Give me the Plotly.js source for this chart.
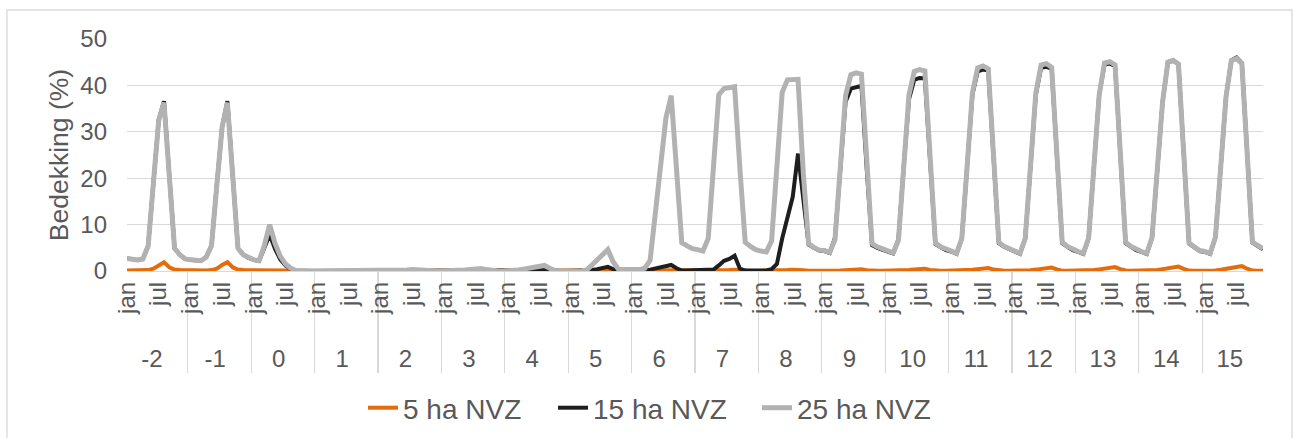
<!DOCTYPE html>
<html>
<head>
<meta charset="utf-8">
<script src="https://cdn.plot.ly/plotly-3.0.1.min.js"></script>
<style>
  html, body { margin: 0; padding: 0; background: #ffffff; }
  #chart { width: 1293px; height: 438px; }
</style>
</head>
<body>
<div id="chart"></div>
<script>
// Years (group labels) and month tick labels (only jan and jul are shown;
// the other months get blank, unique labels)
const years = ['-2','-1','0','1','2','3','4','5','6','7','8','9','10','11','12','13','14','15'];
const shownMonths = { 0: 'jan', 6: 'jul' };
const monthLabels = [];
for (let m = 0; m < 12; m++) {
  monthLabels.push(shownMonths[m] !== undefined ? shownMonths[m]
    : '\u00a0'.repeat(6) + '\u200b'.repeat(m + 1));
}

const seriesNames = ['5 ha NVZ', '15 ha NVZ', '25 ha NVZ'];

// 5 ha NVZ (monthly, one row per year)
const nvz5 = [
  0.1, 0.1, 0.1, 0.1, 0.2, 0.5, 1.3, 1.9, 0.8, 0.3, 0.2, 0.15,
  0.15,0.1, 0.1, 0.1, 0.2, 0.5, 1.3, 1.9, 0.8, 0.3, 0.2, 0.2,
  0.2, 0.2, 0.2, 0.3, 0.3, 0.2, 0.1, 0.05,0, 0, 0, 0,
  0, 0, 0, 0, 0, 0, 0, 0, 0, 0, 0, 0,
  0, 0, 0, 0, 0, 0, 0, 0, 0, 0, 0, 0,
  0, 0, 0, 0, 0, 0, 0, 0, 0, 0, 0, 0,
  0, 0, 0, 0, 0, 0, 0, 0, 0, 0, 0, 0,
  0, 0, 0, 0, 0, 0.02,0.05,0.08,0.03,0, 0, 0,
  0, 0, 0, 0.02,0.05,0.1, 0.15,0.2, 0.1, 0.02,0, 0,
  0, 0, 0, 0.03,0.08,0.15,0.2, 0.25,0.1, 0.03,0, 0,
  0, 0, 0.02,0.05,0.1, 0.2, 0.28,0.32,0.15,0.04,0.02,0.02,
  0.02,0.02,0.05,0.1, 0.15,0.25,0.33,0.38,0.18,0.05,0.03,0.03,
  0.03,0.03,0.05,0.12,0.2, 0.3, 0.42,0.5, 0.22,0.06,0.04,0.04,
  0.04,0.04,0.06,0.15,0.25,0.4, 0.55,0.65,0.3, 0.07,0.05,0.05,
  0.05,0.05,0.07,0.18,0.3, 0.45,0.65,0.75,0.35,0.08,0.05,0.05,
  0.05,0.05,0.08,0.2, 0.35,0.5, 0.72,0.85,0.4, 0.1, 0.06,0.05,
  0.05,0.05,0.09,0.22,0.4, 0.6, 0.82,0.95,0.45,0.1, 0.06,0.05,
  0.05,0.05,0.1, 0.25,0.45,0.65,0.9, 1.05,0.5, 0.1, 0.06,0.05
];

// 15 ha NVZ
const nvz15 = [
  2.7, 2.5, 2.4, 2.6, 5.4, 19.0,32.5,36.6,20.0,4.9, 3.5, 2.6,
  2.4, 2.3, 2.2, 3.0, 5.5, 18.5,31.0,36.6,20.0,4.9, 3.5, 2.8,
  2.4, 2.2, 5.0, 7.8, 4.8, 2.5, 1.2, 0.4, 0.1, 0, 0, 0,
  0, 0, 0, 0, 0, 0, 0, 0, 0, 0, 0, 0,
  0, 0, 0, 0, 0, 0, 0, 0, 0, 0, 0, 0,
  0, 0, 0, 0, 0.05,0.1, 0.15,0.2, 0.1, 0, 0, 0,
  0, 0, 0, 0.05,0.1, 0.2, 0.3, 0.4, 0.2, 0.05,0, 0,
  0, 0, 0, 0.05,0.2, 0.4, 0.7, 0.9, 0.4, 0.1, 0.05,0.05,
  0.05,0.05,0.1, 0.3, 0.6, 0.9, 1.1, 1.3, 0.6, 0.1, 0.1, 0.1,
  0.1, 0.1, 0.1, 0.3, 1.2, 2.2, 2.6, 3.3, 0.5, 0.1, 0.1, 0.1,
  0.1, 0.1, 0.4, 1.5, 7.0, 11.5,16.0,25.3,16.0,5.7, 5.0, 4.4,
  4.3, 3.9, 7.2, 23.0,36.5,39.3,39.7,39.9,22.0,5.6, 5.0, 4.5,
  4.2, 3.8, 6.8, 22.5,37.0,41.2,41.6,41.5,23.0,5.8, 5.1, 4.5,
  4.2, 3.7, 7.0, 22.5,38.0,43.0,43.4,43.2,23.5,6.0, 5.2, 4.6,
  4.2, 3.7, 7.0, 22.5,38.0,43.8,44.0,43.6,24.0,6.0, 5.2, 4.5,
  4.1, 3.7, 7.1, 22.5,38.0,44.5,44.7,44.2,24.5,6.0, 5.2, 4.5,
  4.1, 3.7, 7.2, 22.0,36.5,45.0,45.3,44.6,24.5,5.9, 5.1, 4.3,
  4.1, 3.7, 7.3, 22.0,37.5,45.4,46.0,44.8,25.0,6.1, 5.4, 4.7
];

// 25 ha NVZ
const nvz25 = [
  2.7, 2.5, 2.4, 2.6, 5.4, 19.0,32.5,36.3,20.0,4.9, 3.5, 2.6,
  2.4, 2.3, 2.2, 3.0, 5.5, 18.5,31.0,36.3,20.0,4.9, 3.5, 2.8,
  2.4, 2.2, 5.5, 10.0,6.0, 3.2, 1.5, 0.6, 0.1, 0, 0, 0,
  0, 0, 0, 0, 0, 0.05,0.1, 0.15,0.1, 0.05,0, 0,
  0, 0, 0, 0.05,0.1, 0.2, 0.3, 0.3, 0.2, 0.1, 0.05,0,
  0, 0, 0.05,0.1, 0.2, 0.35,0.5, 0.55,0.3, 0.1, 0.05,0,
  0, 0.05,0.2, 0.4, 0.6, 0.8, 1.0, 1.2, 0.6, 0.1, 0.05,0,
  0, 0, 0, 0.2, 1.3, 2.4, 3.5, 4.6, 2.0, 0.4, 0.3, 0.3,
  0.3, 0.3, 0.6, 2.3, 12.5,22.8,33.0,37.8,21.8,6.1, 5.4, 4.8,
  4.6, 4.3, 7.0, 22.5,38.0,39.3,39.5,39.7,22.0,6.2, 5.3, 4.6,
  4.3, 4.1, 6.5, 23.0,38.5,41.2,41.3,41.3,21.0,5.9, 5.1, 4.5,
  4.4, 4.0, 6.8, 22.0,37.8,42.3,42.7,42.4,23.0,5.9, 5.2, 4.7,
  4.3, 3.9, 6.6, 22.0,38.0,43.0,43.4,43.1,23.5,6.0, 5.2, 4.6,
  4.3, 3.8, 7.0, 22.5,38.4,43.8,44.2,43.6,24.0,6.2, 5.3, 4.7,
  4.3, 3.8, 7.0, 22.5,38.3,44.4,44.7,43.9,24.0,6.2, 5.3, 4.6,
  4.2, 3.8, 7.1, 22.5,38.0,44.8,45.1,44.4,24.5,6.2, 5.3, 4.6,
  4.2, 3.8, 7.2, 22.0,36.5,45.0,45.4,44.6,24.5,6.0, 5.2, 4.4,
  4.2, 3.8, 7.3, 22.0,37.5,45.3,45.8,44.7,25.0,6.2, 5.5, 4.8
];

const yTicks = [0, 10, 20, 30, 40, 50];

// Build multicategory x arrays from years x months
const xOuter = [], xInner = [];
years.forEach(y => monthLabels.forEach(m => { xOuter.push(y); xInner.push(m); }));
const xCats = [xOuter, xInner];

const FONT = 'Liberation Sans, Arial, sans-serif';
const TXT = '#595959';
const GRID = '#d9d9d9';

const traces = [
  { x: xCats, y: nvz5,  name: seriesNames[0], type: 'scatter', mode: 'lines',
    line: { color: '#e46c0a', width: 4 }, legendwidth: 145 },
  { x: xCats, y: nvz15, name: seriesNames[1], type: 'scatter', mode: 'lines',
    line: { color: '#1e1e1e', width: 4 }, legendwidth: 159 },
  { x: xCats, y: nvz25, name: seriesNames[2], type: 'scatter', mode: 'lines',
    line: { color: '#b2b2b2', width: 5 }, legendwidth: 159 }
];

const layout = {
  width: 1293, height: 438,
  margin: { l: 127, r: 30, t: 39, b: 167 },
  paper_bgcolor: '#ffffff', plot_bgcolor: '#ffffff',
  font: { family: FONT, color: TXT, size: 24 },
  showlegend: true,
  legend: { orientation: 'h', xref: 'container', yref: 'container',
            x: 363 / 1293, xanchor: 'left', y: 1 - 408 / 438, yanchor: 'middle',
            font: { family: FONT, size: 28, color: TXT }, bgcolor: 'rgba(0,0,0,0)' },
  xaxis: {
    type: 'multicategory',
    tickmode: 'linear', tick0: 0, dtick: 1,
    tickangle: -90,
    tickfont: { family: FONT, size: 24, color: TXT },
    showline: true, linecolor: GRID, linewidth: 1.3,
    showgrid: false, ticks: '', zeroline: false,
    showdividers: true, dividercolor: GRID, dividerwidth: 1.3,
    automargin: false, fixedrange: true
  },
  yaxis: {
    range: [0, 50], tickvals: yTicks, ticktext: yTicks.map(String),
    showgrid: true, gridcolor: GRID, gridwidth: 1.3,
    zeroline: false, showline: false, ticks: '',
    tickfont: { family: FONT, size: 24, color: TXT },
    ticklabelstandoff: 19,
    title: { text: 'Bedekking (%)', font: { family: FONT, size: 26.5, color: TXT }, standoff: 4 },
    automargin: false, fixedrange: true
  },
  shapes: [
    { type: 'rect', xref: 'paper', yref: 'paper',
      x0: (7 - 127) / 1136, x1: (1292 - 127) / 1136,
      y0: (271 - 445) / 232, y1: (271 - 10) / 232,
      line: { color: GRID, width: 1.3 }, fillcolor: 'rgba(0,0,0,0)', layer: 'below' }
  ]
};

Plotly.newPlot('chart', traces, layout, { displayModeBar: false, staticPlot: true });
</script>
</body>
</html>
